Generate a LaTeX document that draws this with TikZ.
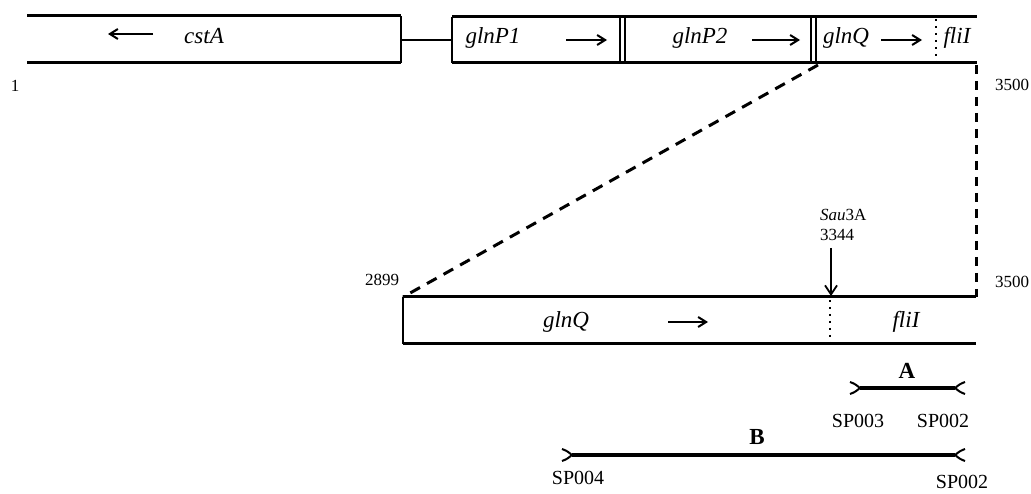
\documentclass[tikz,border=0pt]{standalone}
\usepackage{fontspec}
\setmainfont{Liberation Serif}
\usetikzlibrary{arrows.meta}
\begin{document}
\begin{tikzpicture}[x=1pt,y=-1pt,
  hbar/.style={line width=3pt},
  vbar/.style={line width=2pt},
  gene/.style={font=\fontsize{23}{23}\selectfont\itshape},
  num/.style={font=\fontsize{17}{17}\selectfont},
  prim/.style={font=\fontsize{20}{20}\selectfont},
  frag/.style={font=\fontsize{23}{23}\selectfont\bfseries},
  dir/.style={-{Straight Barb[length=8pt,width=10pt,line width=2pt]}, line width=2.2pt},
  dotline/.style={line width=2pt, dash pattern=on 2pt off 5pt},
  zoomline/.style={line width=3pt, dash pattern=on 11pt off 8pt},
  primer/.style={line width=4.5pt},
  tipend/.style={line width=2pt}]
\useasboundingbox (0,0) rectangle (1031,494);
% ---- top map ----
\coordinate (c1) at (27,16); \coordinate (c2) at (401,16);
\coordinate (c3) at (401,63); \coordinate (c4) at (27,63);
\draw[hbar] (c1) -- (c2); \draw[hbar] (c4) -- (c3);
\draw[vbar] (c2) -- (c3);
\coordinate (j1) at (401,40); \coordinate (j2) at (452,40);
\draw[vbar] (j1) -- (j2);
\coordinate (t1) at (452,17); \coordinate (t2) at (977,17);
\coordinate (b1) at (452,63); \coordinate (b2) at (977,63);
\draw[hbar] (t1) -- (t2); \draw[hbar] (b1) -- (b2);
\foreach \x in {452,620,625,811,816} \draw[vbar] (\x,17) -- (\x,63);
\draw[dotline] (936,19) -- (936,63);
% labels top
\coordinate (a1s) at (153,34); \coordinate (a1e) at (108,34);
\draw[dir] (a1s) -- (a1e);
\node[gene] (cstA) at (204,36) {cstA};
\node[gene] (glnP1) at (493,38) {glnP1};
\coordinate (a2s) at (566,40); \coordinate (a2e) at (607,40);
\draw[dir] (a2s) -- (a2e);
\node[gene] (glnP2) at (700,38) {glnP2};
\coordinate (a3s) at (752,40); \coordinate (a3e) at (800,40);
\draw[dir] (a3s) -- (a3e);
\node[gene] (glnQt) at (846,38) {glnQ};
\coordinate (a4s) at (881,40); \coordinate (a4e) at (922,40);
\draw[dir] (a4s) -- (a4e);
\node[gene] (fliIt) at (957,38) {fliI};
\node[num] (n1) at (15,86) {1};
\node[num] (n3500a) at (1012,85) {3500};
% ---- zoom lines ----
\coordinate (z1) at (818,65); \coordinate (L1) at (403,297);
\draw[zoomline] (z1) -- (L1);
\coordinate (z2) at (976,65); \coordinate (R1) at (976,297);
\draw[zoomline, dash pattern=on 9pt off 7pt] (z2) -- (R1);
% ---- lower map ----
\coordinate (L2) at (403,344); \coordinate (R2) at (976,344);
\draw[hbar] (L1) -- (R1); \draw[hbar] (L2) -- (R2);
\draw[vbar] (L1) -- (L2);
\draw[dotline] (830,300) -- (830,344);
\node[gene] (glnQb) at (566,322) {glnQ};
\coordinate (a5s) at (668,322); \coordinate (a5e) at (708,322);
\draw[dir] (a5s) -- (a5e);
\node[gene] (fliIb) at (906,322) {fliI};
\node[num] (n2899) at (382,280) {2899};
\node[num] (n3500b) at (1012,282) {3500};
\node[num, align=left, anchor=south west, inner sep=0pt, font=\fontsize{17}{20}\selectfont] (sau) at (820,241) {\textit{Sau}3A\\3344};
\coordinate (s1) at (831,248); \coordinate (s2) at (831,296);
\draw[-{Straight Barb[length=9pt,width=12pt,line width=1.8pt]}, line width=2pt] (s1) -- (s2);
% ---- PCR products ----
\coordinate (A1) at (860,388); \coordinate (A2) at (955,388);
\draw[primer] (A1) -- (A2);
\draw[tipend] (850,382) .. controls (855,384) .. (A1) .. controls (855,392) .. (850,394);
\draw[tipend] (965,382) .. controls (960,384) .. (A2) .. controls (960,392) .. (965,394);
\node[frag] (Alab) at (907,371) {A};
\node[prim] (sp3) at (858,421) {SP003};
\node[prim] (sp2a) at (943,421) {SP002};
\coordinate (B1) at (572,455); \coordinate (B2) at (955,455);
\draw[primer] (B1) -- (B2);
\draw[tipend] (562,449) .. controls (567,451) .. (B1) .. controls (567,459) .. (562,461);
\draw[tipend] (965,449) .. controls (960,451) .. (B2) .. controls (960,459) .. (965,461);
\node[frag] (Blab) at (757,437) {B};
\node[prim] (sp4) at (578,478) {SP004};
\node[prim] (sp2b) at (962,482) {SP002};
\end{tikzpicture}
\end{document}
